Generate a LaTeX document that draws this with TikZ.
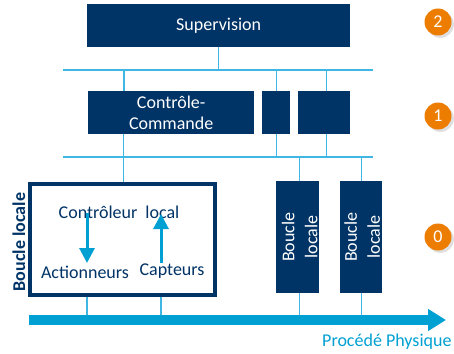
\documentclass[tikz,border=0pt]{standalone}
\usepackage{fontspec}
\setmainfont{Carlito}
\usetikzlibrary{arrows.meta,shadows}
\definecolor{navy}{RGB}{0,51,102}
\definecolor{lblue}{RGB}{64,182,228}
\definecolor{pblue}{RGB}{0,160,210}
\definecolor{orng}{RGB}{237,125,0}
\begin{document}
\begin{tikzpicture}[x=1pt,y=-1pt,
  font=\fontsize{18}{21}\selectfont,
  navybox/.style={fill=navy, text=white, inner sep=0pt, anchor=north west},
  bus/.style={draw=lblue, line width=1.4pt},
  vline/.style={draw=lblue, line width=1.3pt},
  arr/.style={draw=pblue, line width=3pt, -{Triangle[width=15pt,length=15pt]}},
  badge/.style={circle, fill=orng, text=white, minimum size=27pt, inner sep=0pt, drop shadow={opacity=0.25}},
  intext/.style={text=navy, inner sep=0pt}]
\useasboundingbox (0,0) rectangle (454,353);

% level 2
\node[navybox, minimum width=263pt, minimum height=43pt] (sup) at (87,4) {Supervision};
\coordinate (b1w) at (63,70);
\coordinate (b1e) at (373,70);
\draw[bus] (b1w) -- (b1e);
\draw[vline] (sup.south) -- (sup.south |- b1w);

% level 1
\node[navybox, minimum width=166pt, minimum height=43pt, align=center] (cc) at (88,91) {Contrôle-\\Commande};
\node[navybox, minimum width=28pt, minimum height=43pt] (cc2) at (262,91) {};
\node[navybox, minimum width=52pt, minimum height=43pt] (cc3) at (298,91) {};
\coordinate (ccin) at (124,91);
\draw[vline] (ccin) -- (ccin |- b1w);
\draw[vline] (cc2.north) -- (cc2.north |- b1w);
\draw[vline] ([xshift=2pt]cc3.north) -- ([xshift=2pt]cc3.north |- b1w);

\coordinate (b2w) at (63,157);
\coordinate (b2e) at (373,157);
\draw[bus] (b2w) -- (b2e);
\draw[vline] (cc2.south) -- (cc2.south |- b2w);
\draw[vline] ([xshift=2pt]cc3.south) -- ([xshift=2pt]cc3.south |- b2w);

% level 0 : local loop box
\node[draw=navy, line width=3.5pt, fill=white, minimum width=185pt, minimum height=111pt, anchor=north west, inner sep=0pt, drop shadow={opacity=0.25}] (lb) at (28,182) {};
\draw[vline] ([xshift=1.5pt]lb.north) -- ([xshift=1.5pt]lb.north |- cc.south);

\node[intext] (ctl) at (119,212) {Contrôleur\hspace{0.45em}local};
\node[intext] (act) at (85,272) {Actionneurs};
\node[intext] (cap) at (172,271) {Capteurs};
\coordinate (a1s) at (87,213);
\coordinate (a1e) at (87,263);
\coordinate (a2s) at (161,263);
\coordinate (a2e) at (161,214);
\draw[arr] (a1s) -- (a1e);
\draw[arr] (a2s) -- (a2e);

\node[rotate=90, text=navy, font=\fontsize{18}{21}\selectfont\bfseries, inner sep=0pt] (lbl) at (19,242) {Boucle locale};

% other local loops
\node[navybox, minimum width=43pt, minimum height=112pt] (bl1) at (276,181) {};
\node[navybox, minimum width=42pt, minimum height=112pt] (bl2) at (340,181) {};
\node[rotate=90, text=white, align=center, inner sep=0pt, font=\fontsize{18}{23}\selectfont] (bt1) at ([xshift=2pt]bl1.center) {Boucle\\locale};
\node[rotate=90, text=white, align=center, inner sep=0pt, font=\fontsize{18}{23}\selectfont] (bt2) at ([xshift=1pt]bl2.center) {Boucle\\locale};
\draw[vline] ([xshift=1.5pt]bl1.north) -- ([xshift=1.5pt]bl1.north |- b2w);
\draw[vline] (bl2.north) -- (bl2.north |- b2w);

% process
\coordinate (pw) at (29,320);
\coordinate (pe) at (446,320);
\draw[vline] (a1e |- lb.south) -- (a1e |- pw);
\draw[vline] (a2s |- lb.south) -- (a2s |- pw);
\draw[vline] ([xshift=1.5pt]bl1.south) -- ([xshift=1.5pt]bl1.south |- pw);
\draw[vline] (bl2.south) -- (bl2.south |- pw);
\draw[draw=pblue, line width=9.5pt, -{Triangle[width=21pt,length=18pt]}] (pw) -- (pe);
\node[text=pblue, anchor=west, inner sep=0pt] (pp) at (322,342) {Procédé Physique};

% level badges
\node[badge] (n2) at (438,22) {2};
\node[badge] (n1) at (438,116) {1};
\node[badge] (n0) at (438,237) {0};
\end{tikzpicture}
\end{document}
